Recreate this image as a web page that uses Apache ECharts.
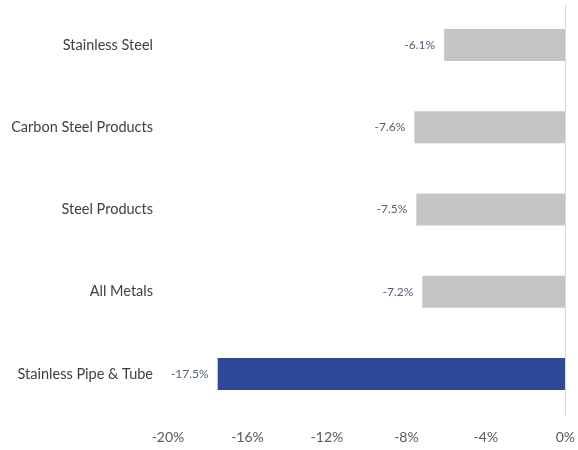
<!DOCTYPE html>
<html><head><meta charset="utf-8">
<script src="https://cdn.jsdelivr.net/npm/echarts@6/dist/echarts.min.js"></script>
<style>html,body{margin:0;padding:0;background:#fff}#c{width:578px;height:450px}</style>
</head><body><div id="c"></div>
<script>
const categories = ["Stainless Steel","Carbon Steel Products","Steel Products","All Metals","Stainless Pipe & Tube"];
const values = [-6.1,-7.6,-7.5,-7.2,-17.5];
const barColors = ["#C3C5C7","#C3C5C7","#C3C5C7","#C3C5C7","#2C4A97"];
const tickLabels = [-20,-16,-12,-8,-4,0];

const chart = echarts.init(document.getElementById('c'));
chart.setOption({
  animation:false,
  grid:{left:168,right:12,top:4,bottom:35},
  xAxis:{type:'value',min:-20,max:0,interval:4,
    axisLine:{show:false},axisTick:{show:false},splitLine:{show:false},
    axisLabel:{margin:15,fontFamily:'Lato',fontSize:14,color:'#595959',
      formatter:v=>tickLabels.includes(v)?v+'%':''}},
  yAxis:{type:'category',data:categories,inverse:true,
    axisLine:{show:false},axisTick:{show:false},
    axisLabel:{margin:15,fontFamily:'Lato',fontSize:14.5,color:'#404040'}},
  series:[{type:'bar',barWidth:32,
    data:values.map((v,i)=>({value:v,itemStyle:{color:barColors[i]}})),
    label:{show:true,position:'left',distance:9,fontFamily:'Lato',fontSize:12,color:'#4F5F75',
      formatter:p=>p.value.toFixed(1)+'%'},
    markLine:{silent:true,symbol:'none',label:{show:false},
      lineStyle:{color:'#D9D9D9',width:1,type:'solid'},data:[{xAxis:0}]}
  }]
});
</script></body></html>
